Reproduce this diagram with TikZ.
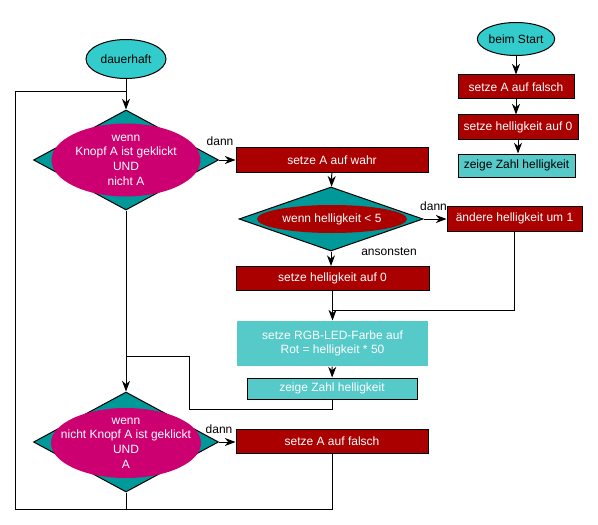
\documentclass[tikz,border=0pt]{standalone}
\usepackage{fontspec}
\setmainfont{Liberation Sans}
\usetikzlibrary{shapes.geometric,arrows.meta}
\definecolor{startcol}{HTML}{33CCCC}
\definecolor{condcol}{HTML}{009999}
\definecolor{ovalcol}{HTML}{CC0070}
\definecolor{actcol}{HTML}{AA0000}
\definecolor{showcol}{HTML}{56C9C9}

\begin{document}
\begin{tikzpicture}[x=0.75pt,y=-0.75pt,line width=0.75pt,
	every node/.style={font=\fontsize{9}{11}\selectfont, inner sep=0pt},
	startoval/.style={ellipse, draw, fill=startcol},
	actbox/.style={rectangle, draw, fill=actcol, text=white},
	showbox/.style={rectangle, fill=showcol},
	condbox/.style={diamond, draw, fill=condcol},
	condoval/.style={ellipse, fill=#1},
	condtext/.style={text=white, align=center},
	arr/.style={-{Stealth[length=8pt,width=6pt,inset=2.5pt]}}]
			\useasboundingbox (0,0) rectangle (598,524);
			% loop on the left
			\node[startoval, minimum width=60pt, minimum height=29.25pt] (dauerhaft) at (126,59) {dauerhaft};
			\node[condbox, minimum width=138.75pt, minimum height=75pt] (d1) at (126,160) {};
			\node[condoval=ovalcol, minimum width=111.75pt, minimum height=54.75pt] (e1) at (126,160) {};
			\node[condtext] (t1) at (126,160) {wenn\\Knopf A ist geklickt\\UND\\nicht A};
			\node[actbox, minimum width=144pt, minimum height=18.75pt] (wahr) at (332,160) {setze A auf wahr};
			\node[condbox, minimum width=138pt, minimum height=48pt] (d2) at (331,219) {};
			\node[condoval=actcol, minimum width=112.5pt, minimum height=21pt] (e2) at (332,219) {};
			\node[condtext] (t2) at (332,219) {wenn helligkeit < 5};
			\node[actbox, minimum width=101.25pt, minimum height=18.75pt] (aendere) at (514.5,218.5) {ändere helligkeit um 1};
			\node[actbox, minimum width=144.75pt, minimum height=18pt] (hell0) at (332.5,278.5) {setze helligkeit auf 0};
			\node[showbox, text=white, align=center, minimum width=143.25pt, minimum height=33.75pt] (rgb) at (332.5,343.5) {setze RGB-LED-Farbe auf\\Rot = helligkeit * 50};
			\node[showbox, draw, text=white, minimum width=127.5pt, minimum height=15.75pt] (zeigeL) at (332,388.5) {zeige Zahl helligkeit};
			\node[condbox, minimum width=138.75pt, minimum height=75pt] (d3) at (126,442) {};
			\node[condoval=ovalcol, minimum width=112.5pt, minimum height=52.5pt] (e3) at (126,443) {};
			\node[condtext] (t3) at (126,443) {wenn\\nicht Knopf A ist geklickt\\UND\\A};
			\node[actbox, minimum width=144pt, minimum height=18pt] (falsch) at (332,441) {setze A auf falsch};
			% labels
			\node (dann1) at (220,141) {dann};
			\node (dann2) at (433.5,206.5) {dann};
			\node (sonst) at (389,252) {ansonsten};
			\node (dann3) at (219,429) {dann};
			% start column
			\node[startoval, minimum width=56.25pt, minimum height=24.75pt] (start) at (516,39) {beim Start};
			\node[actbox, minimum width=87pt, minimum height=18pt] (setA) at (516,87) {setze A auf falsch};
			\node[actbox, minimum width=90pt, minimum height=18pt] (setH) at (518,127) {setze helligkeit auf 0};
			\node[showbox, draw, minimum width=87.75pt, minimum height=17.25pt] (zeigeR) at (516.5,165.5) {zeige Zahl helligkeit};
			% joins
			\coordinate (top) at (126,92);
			\coordinate (loopbl) at (15,509);
			\coordinate (j1) at (332,310);
			\coordinate (back) at (189,409);
			\coordinate (j2) at (126,356);
			% connectors
			\draw[arr] (dauerhaft) -- (d1);
			\draw[arr] (d1.east) -- (d1.east -| wahr.west);
			\draw[arr] (wahr) -- (d2);
			\draw[arr] (d2.east) -- (d2.east -| aendere.west);
			\draw[arr] (d2.south) -- (d2.south |- hell0.north);
			\draw (aendere.south) |- (j1);
			\draw[arr] (hell0.south) -- (hell0.south |- rgb.north);
			\draw[arr] (rgb) -- (zeigeL);
			\draw (zeigeL.south) |- (back) |- (j2);
			\draw[arr] (d1.south) -- (d3.north);
			\draw[arr] (d3.east) -- (d3.east -| falsch.west);
			\draw (falsch.south) |- (loopbl) |- (top);
			\draw (d3.south) -- (d3.south |- loopbl);
			\draw[arr] (start) -- (setA);
			\draw[arr] (setA.south) -- (setA.south |- setH.north);
			\draw[arr] (setH.south) -- (setH.south |- zeigeR.north);
		\end{tikzpicture}
\end{document}
